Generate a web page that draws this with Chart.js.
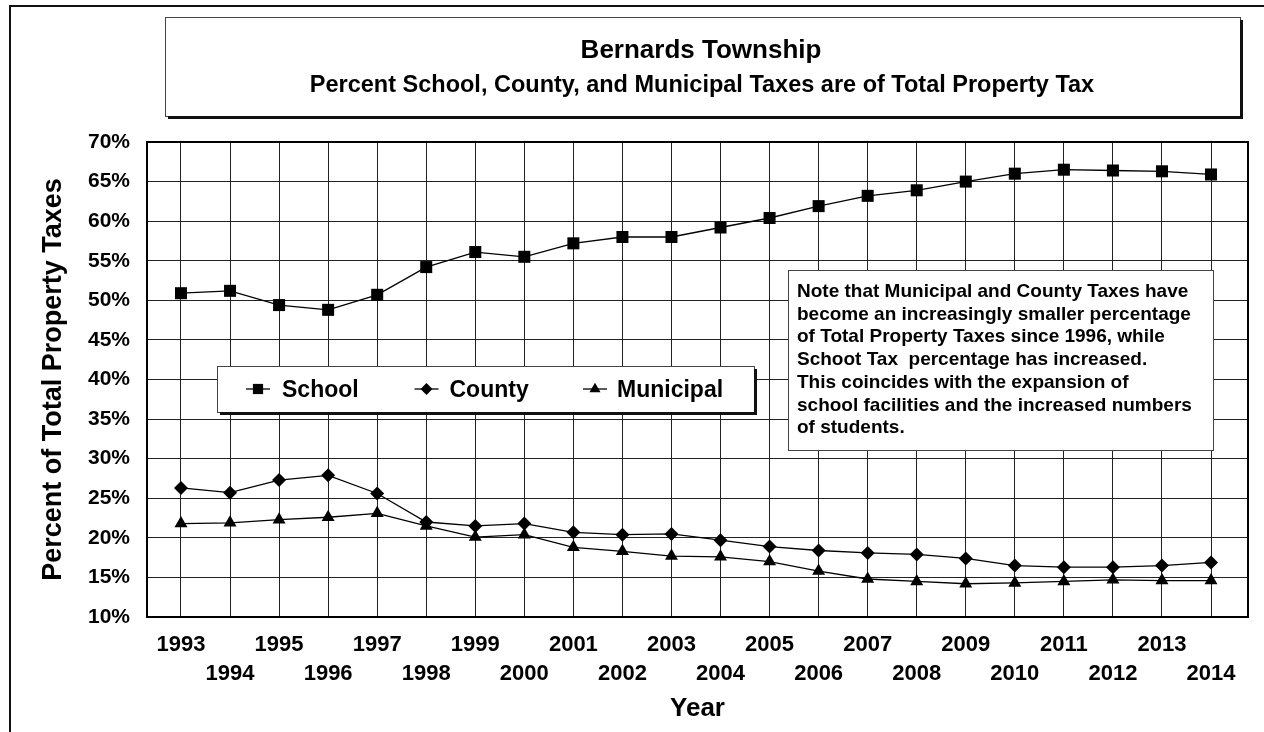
<!DOCTYPE html>
<html>
<head>
<meta charset="utf-8">
<script src="https://cdn.jsdelivr.net/npm/chart.js@4.4.1/dist/chart.umd.min.js"></script>
<style>
  html, body { margin: 0; padding: 0; background: #fff; }
  #wrap { width: 1264px; height: 732px; position: relative; }
  canvas { display: block; }
</style>
</head>
<body>
<div id="wrap"><canvas id="c" width="1264" height="732"></canvas></div>
<script>
// ---------------- data ----------------
const years = [1993, 1994, 1995, 1996, 1997, 1998, 1999, 2000, 2001, 2002, 2003,
               2004, 2005, 2006, 2007, 2008, 2009, 2010, 2011, 2012, 2013, 2014];
const school = [50.9, 51.2, 49.4, 48.8, 50.7, 54.2, 56.1, 55.5, 57.2, 58.0, 58.0,
                59.2, 60.4, 61.9, 63.2, 63.9, 65.0, 66.0, 66.5, 66.4, 66.3, 65.9];
const county = [26.3, 25.7, 27.3, 27.9, 25.6, 22.0, 21.5, 21.8, 20.7, 20.4, 20.5,
                19.7, 18.9, 18.4, 18.1, 17.9, 17.4, 16.5, 16.3, 16.3, 16.5, 16.9];
const municipal = [21.8, 21.9, 22.3, 22.6, 23.1, 21.5, 20.1, 20.4, 18.8, 18.3, 17.7,
                   17.6, 17.0, 15.8, 14.8, 14.5, 14.2, 14.3, 14.5, 14.7, 14.6, 14.6];
const seriesNames = ['School', 'County', 'Municipal'];
const yMin = 10, yMax = 70, yStep = 5;
const titleText = 'Bernards Township';
const subtitleText = 'Percent School, County, and Municipal Taxes are of Total Property Tax';
const yAxisTitle = 'Percent of Total Property Taxes';
const xAxisTitle = 'Year';
const noteLines = [
  'Note that Municipal and County Taxes have',
  'become an increasingly smaller percentage',
  'of Total Property Taxes since 1996, while',
  'Schoot Tax  percentage has increased.',
  'This coincides with the expansion of',
  'school facilities and the increased numbers',
  'of students.'
];

// ---------------- drawing ----------------
const FONT = '"Liberation Sans", Arial, Helvetica, sans-serif';

function shadowBox(ctx, x, y, w, h, shadow) {
  ctx.save();
  ctx.fillStyle = '#fff';
  ctx.fillRect(x, y, w, h);
  ctx.strokeStyle = '#444';
  ctx.lineWidth = 1;
  ctx.strokeRect(x + 0.5, y + 0.5, w, h);
  if (shadow) {
    ctx.fillStyle = '#111';
    ctx.fillRect(x + 3, y + h, w, 3);
    ctx.fillRect(x + w, y + 3, 3, h);
  }
  ctx.restore();
}

function marker(ctx, style, x, y, r) {
  if (Chart.helpers && Chart.helpers.drawPoint) {
    Chart.helpers.drawPoint(ctx, {pointStyle: style, radius: r, rotation: 0, borderWidth: 0}, x, y);
    return;
  }
  ctx.beginPath();
  if (style === 'rect') { const s = r * Math.SQRT1_2; ctx.rect(x - s, y - s, 2 * s, 2 * s); }
  else if (style === 'rectRot') { ctx.moveTo(x, y - r); ctx.lineTo(x + r, y); ctx.lineTo(x, y + r); ctx.lineTo(x - r, y); }
  else { ctx.moveTo(x, y - r); ctx.lineTo(x + r * 0.866, y + r / 2); ctx.lineTo(x - r * 0.866, y + r / 2); }
  ctx.closePath();
  ctx.fill();
}

const decor = {
  id: 'decor',
  beforeDraw(chart) {
    const ctx = chart.ctx;
    ctx.save();
    ctx.fillStyle = '#fff';
    ctx.fillRect(0, 0, chart.width, chart.height);
    // outer frame
    ctx.strokeStyle = '#111';
    ctx.lineWidth = 2;
    ctx.beginPath();
    ctx.moveTo(10, 732); ctx.lineTo(10, 6); ctx.lineTo(1264, 6);
    ctx.stroke();
    // title box
    shadowBox(ctx, 165, 17, 1075, 99, true);
    ctx.fillStyle = '#000';
    ctx.textAlign = 'center';
    ctx.textBaseline = 'alphabetic';
    ctx.font = 'bold 26px ' + FONT;
    ctx.fillText(titleText, 701, 58);
    ctx.font = 'bold 23.5px ' + FONT;
    ctx.fillText(subtitleText, 702, 92);
    ctx.restore();
  },
  afterDatasetsDraw(chart) {
    const ctx = chart.ctx;
    const ca = chart.chartArea;
    ctx.save();
    // plot frame
    ctx.strokeStyle = '#000';
    ctx.lineWidth = 2;
    ctx.strokeRect(ca.left, ca.top, ca.right - ca.left, ca.bottom - ca.top);

    // legend
    shadowBox(ctx, 217, 366, 537, 46, true);
    ctx.font = 'bold 23px ' + FONT;
    ctx.textAlign = 'left';
    ctx.textBaseline = 'alphabetic';
    chart.data.datasets.forEach((ds, i) => {
      const mx = 258 + i * 168.5;
      const my = 389;
      ctx.strokeStyle = '#000';
      ctx.fillStyle = '#000';
      ctx.lineWidth = 1.3;
      ctx.beginPath();
      ctx.moveTo(mx - 12, my); ctx.lineTo(mx + 12, my);
      ctx.stroke();
      marker(ctx, ds.pointStyle, mx, my, ds.pointRadius * 0.85);
      ctx.fillStyle = '#000';
      ctx.fillText(ds.label, 282 + i * 167.5, 397);
    });

    // note box
    shadowBox(ctx, 788, 270, 425, 180, false);
    ctx.fillStyle = '#000';
    ctx.font = 'bold 19px ' + FONT;
    noteLines.forEach((line, i) => {
      ctx.fillText(line, 797, 297 + i * 22.7);
    });
    ctx.restore();
  }
};

const mk = (vals) => years.map((x, i) => ({x: x, y: vals[i]}));
const common = {
  borderColor: '#000',
  backgroundColor: '#000',
  pointBackgroundColor: '#000',
  pointBorderColor: '#000',
  pointBorderWidth: 0,
  borderWidth: 1.3,
  tension: 0,
  fill: false
};

new Chart(document.getElementById('c'), {
  type: 'line',
  data: {
    datasets: [
      Object.assign({label: seriesNames[0], data: mk(school), pointStyle: 'rect', pointRadius: 8.5}, common),
      Object.assign({label: seriesNames[1], data: mk(county), pointStyle: 'rectRot', pointRadius: 7}, common),
      Object.assign({label: seriesNames[2], data: mk(municipal), pointStyle: 'triangle', pointRadius: 7.5}, common)
    ]
  },
  options: {
    responsive: false,
    animation: false,
    events: [],
    layout: {padding: {left: 0, top: 142, right: 16, bottom: 0}},
    plugins: {legend: {display: false}, tooltip: {enabled: false}, title: {display: false}},
    scales: {
      x: {
        type: 'linear',
        min: years[0] - 0.693,
        max: years[years.length - 1] + 0.754,
        afterFit: (s) => { s.height = 115; },
        grid: {color: '#222', lineWidth: 1, drawTicks: false},
        border: {display: true, color: '#000', width: 2},
        ticks: {
          stepSize: 1,
          includeBounds: false,
          autoSkip: false,
          maxRotation: 0,
          minRotation: 0,
          maxTicksLimit: 100,
          padding: 14,
          color: '#000',
          font: {family: FONT, size: 22, weight: 'bold', lineHeight: 1.29},
          callback: (v) => (Math.round(v) % 2 === 1) ? String(Math.round(v)) : ['', String(Math.round(v))]
        },
        title: {
          display: true, text: xAxisTitle, color: '#000',
          font: {family: FONT, size: 26, weight: 'bold'},
          padding: {top: 0, bottom: 8}
        }
      },
      y: {
        type: 'linear',
        min: yMin,
        max: yMax,
        afterFit: (s) => { s.width = 147; },
        grid: {color: '#222', lineWidth: 1, drawTicks: false},
        border: {display: true, color: '#000', width: 2},
        ticks: {
          stepSize: yStep,
          padding: 17,
          color: '#000',
          font: {family: FONT, size: 21, weight: 'bold'},
          callback: (v) => v + '%'
        },
        title: {
          display: true, text: yAxisTitle, color: '#000',
          font: {family: FONT, size: 27, weight: 'bold'},
          padding: {top: 37, bottom: 0}
        }
      }
    }
  },
  plugins: [decor]
});
</script>
</body>
</html>
